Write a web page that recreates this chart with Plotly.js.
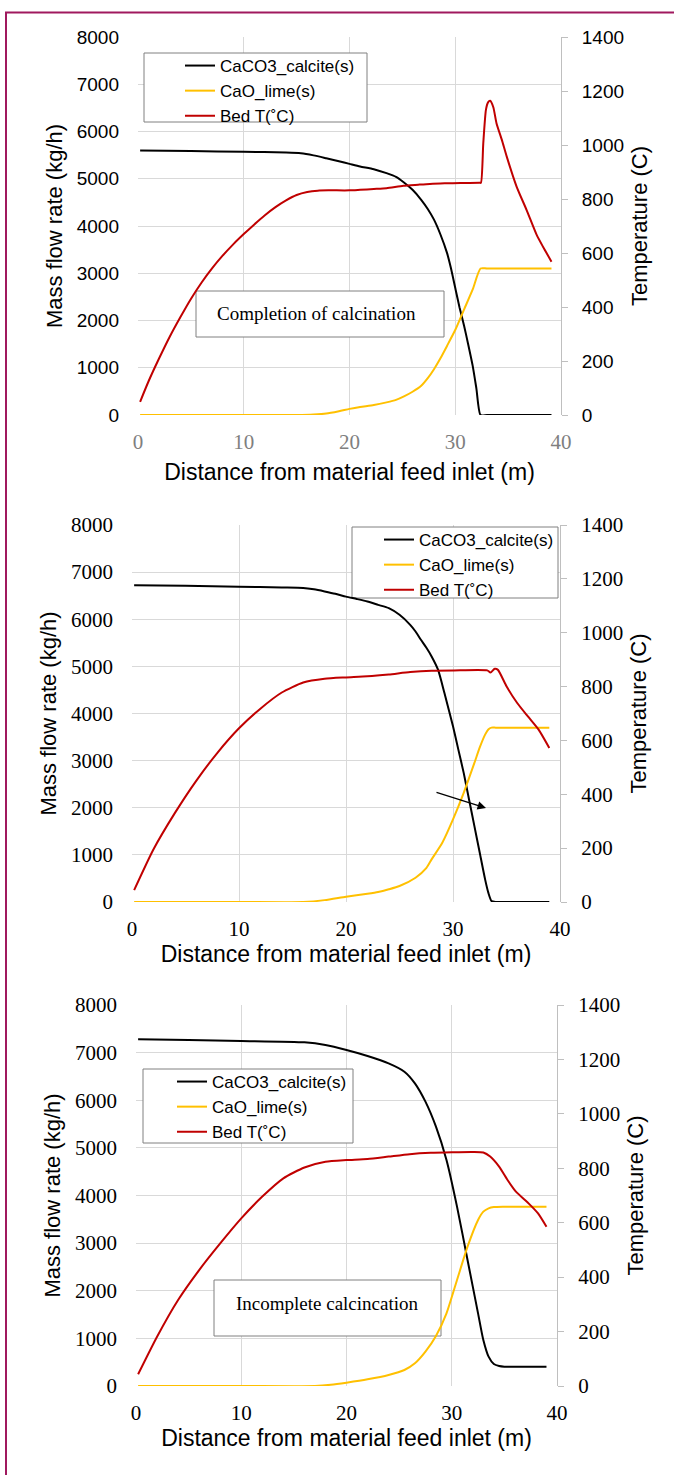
<!DOCTYPE html>
<html>
<head>
<meta charset="utf-8">
<script src="https://cdn.plot.ly/plotly-3.0.1.min.js"></script>
<style>html,body{margin:0;padding:0;background:#fff;}#chart{width:674px;height:1475px;}</style>
</head>
<body>
<div id="chart"></div>
<script>
// ---------------- DATA ----------------
const seriesNames = ['CaCO3_calcite(s)', 'CaO_lime(s)', 'Bed T(˚C)'];
const xTitle = 'Distance from material feed inlet (m)';
const yLeftTitle = 'Mass flow rate (kg/h)';
const yRightTitle = 'Temperature (C)';
const noteTexts = ['Completion of calcination', '', 'Incomplete calcincation'];

// Panel 1 (top) - completion of calcination
const p1_caco3_x = [0.2, 5, 10, 14, 15.4, 16.6, 17.8, 19, 20, 21, 22.3, 23.5, 24.4, 25.15, 25.96, 26.78, 27.4, 27.99, 28.6, 29.22, 29.6, 30.03, 30.4, 30.84, 31.2, 31.65, 32.0, 32.39, 33, 36, 39.1];
const p1_caco3   = [5600, 5585, 5570, 5555, 5540, 5495, 5434, 5370, 5315, 5260, 5202, 5118, 5040, 4921, 4766, 4555, 4360, 4134, 3820, 3431, 3100, 2657, 2280, 1884, 1520, 1040, 560, 0, 0, 0, 0];
const p1_cao_x   = [0.2, 10, 15, 16.6, 17.8, 19, 20, 21, 22.3, 23.5, 24.4, 25.15, 25.96, 26.78, 27.4, 27.99, 28.6, 29.22, 30.03, 30.84, 31.65, 32.39, 33, 36, 39.1];
const p1_cao     = [0, 0, 0, 10, 30, 80, 130, 170, 211, 267, 320, 394, 492, 619, 780, 970, 1200, 1462, 1814, 2236, 2657, 3100, 3100, 3100, 3100];
const p1_bedT_x  = [0.2, 1, 2, 3, 4, 5, 6, 7, 8, 9, 10, 11, 12, 13, 14, 15, 16, 17, 18, 20, 21, 22.3, 23.5, 25.1, 26.5, 27.6, 29, 30.5, 32.3, 32.43, 32.65, 32.9, 33.1, 33.3, 33.6, 33.9, 34.4, 34.87, 35.8, 36.75, 37.7, 38.3, 39.1];
const p1_bedT    = [49, 125, 210, 290, 362, 430, 490, 543, 590, 632, 670, 706, 740, 770, 795, 815, 826, 831, 832, 832, 834, 837, 840, 849, 853, 856, 858, 859, 860, 860, 1006, 1130, 1158, 1164, 1140, 1081, 1020, 957, 846, 759, 667, 623, 568];

// Panel 2 (middle)
const p2_caco3_x = [0.2, 5, 10, 14, 16, 17, 18, 19, 20, 21, 22, 23, 24, 25, 26, 26.5, 27, 27.5, 28, 28.6, 29.2, 30, 30.5, 31, 31.5, 32, 32.5, 33, 33.3, 33.6, 34, 36, 39];
const p2_caco3   = [6720, 6710, 6690, 6675, 6665, 6635, 6590, 6540, 6480, 6430, 6376, 6305, 6235, 6094, 5882, 5740, 5564, 5400, 5211, 4929, 4434, 3728, 3234, 2740, 2175, 1610, 1045, 480, 198, 20, 0, 0, 0];
const p2_cao_x   = [0.2, 10, 16, 18, 20, 22, 23, 24, 25, 26.5, 27.5, 28, 29, 30, 31, 32, 32.5, 33, 33.3, 33.6, 34, 36, 39];
const p2_cao     = [0, 0, 0, 40, 113, 175, 212, 270, 339, 515, 720, 904, 1257, 1751, 2316, 2951, 3280, 3552, 3660, 3700, 3700, 3700, 3700];
const p2_bedT_x  = [0.2, 2, 4, 6, 8, 10, 12, 14, 16, 18, 20, 22, 24, 26, 28, 30, 33.2, 33.5, 33.9, 34.2, 35, 36, 37, 38, 39];
const p2_bedT    = [44, 195, 330, 450, 555, 645, 718, 778, 815, 829, 834, 838, 845, 854, 859, 860, 860, 852, 866, 862, 801, 739, 689, 640, 572];

// Panel 3 (bottom) - incomplete calcination
const p3_caco3_x = [0.2, 5, 10, 16, 18, 20, 22, 24, 25.5, 26.5, 27.5, 28.5, 29.5, 30.5, 31.5, 32.5, 33, 33.5, 34, 34.5, 35, 39];
const p3_caco3   = [7279, 7265, 7245, 7216, 7160, 7055, 6929, 6775, 6600, 6355, 5970, 5445, 4745, 3766, 2646, 1526, 966, 616, 462, 420, 406, 406];
const p3_cao_x   = [0.2, 10, 17, 18.5, 20, 22, 24, 25.5, 26.5, 27.5, 28.5, 29.5, 30.5, 31.5, 32.5, 33, 33.5, 34, 35, 39];
const p3_cao     = [0, 0, 0, 25, 70, 140, 231, 336, 476, 721, 1050, 1526, 2226, 2926, 3486, 3661, 3731, 3759, 3766, 3766];
const p3_bedT_x  = [0.2, 2, 4, 6, 8, 10, 12, 14, 16, 18, 20, 22, 24, 26, 28, 30, 32, 33, 33.65, 34.5, 35.3, 36.1, 37.3, 38.2, 39];
const p3_bedT    = [43, 181, 316, 426, 524, 616, 696, 763, 803, 824, 830, 834, 843, 852, 857, 859, 860, 858, 843, 806, 757, 714, 671, 634, 585];

// ---------------- LAYOUT ----------------
const W = 674, H = 1475;
const SANS = '"Liberation Sans", Arial, sans-serif';
const SERIF = '"Liberation Serif", "Times New Roman", serif';
const colors = ['#000000', '#FFC000', '#C00000'];
const px = v => v / W;
const py = v => 1 - v / H;

const panels = [
  {xl: 138, xr: 561, yt: 37, yb: 415,
   leftFont: {family: SANS, size: 19, color: '#000'}, rightFont: {family: SANS, size: 19, color: '#000'}, xFont: {family: SERIF, size: 21, color: '#7f7f7f'},
   data: [[p1_caco3_x, p1_caco3], [p1_cao_x, p1_cao], [p1_bedT_x, p1_bedT]],
   legendBox: [144, 53, 367, 122], legendText: [220, 48], xStandoff: 10,
   noteBox: [196, 291, 444, 337], noteText: [316, 313]},
  {xl: 132, xr: 560, yt: 525, yb: 902,
   leftFont: {family: SERIF, size: 21, color: '#000'}, rightFont: {family: SERIF, size: 21, color: '#000'}, xFont: {family: SERIF, size: 21, color: '#000'},
   data: [[p2_caco3_x, p2_caco3], [p2_cao_x, p2_cao], [p2_bedT_x, p2_bedT]],
   legendBox: [352, 527, 558, 598], legendText: [419, 522], xStandoff: 4},
  {xl: 136, xr: 557, yt: 1005, yb: 1386,
   leftFont: {family: SERIF, size: 21, color: '#000'}, rightFont: {family: SERIF, size: 21, color: '#000'}, xFont: {family: SERIF, size: 21, color: '#000'},
   data: [[p3_caco3_x, p3_caco3], [p3_cao_x, p3_cao], [p3_bedT_x, p3_bedT]],
   legendBox: [143, 1069, 353, 1143], legendText: [212, 1064], xStandoff: 1,
   noteBox: [214, 1280, 441, 1336], noteText: [327, 1303]}
];

const traces = [];
const layout = {
  width: W, height: H,
  margin: {l: 0, r: 0, t: 0, b: 0},
  paper_bgcolor: '#ffffff', plot_bgcolor: '#ffffff',
  showlegend: true,
  shapes: [], annotations: []
};

panels.forEach((p, i) => {
  const xn = i === 0 ? 'x' : 'x' + (i + 1);
  const yLn = i === 0 ? 'y' : 'y' + (2 * i + 1);
  const yRn = 'y' + (2 * i + 2);
  const xKey = i === 0 ? 'xaxis' : 'xaxis' + (i + 1);
  const yLKey = i === 0 ? 'yaxis' : 'yaxis' + (2 * i + 1);
  const yRKey = 'yaxis' + (2 * i + 2);
  const legKey = i === 0 ? 'legend' : 'legend' + (i + 1);
  const dX = v => (v - p.xl) / (p.xr - p.xl) * 40;
  const dY = v => (p.yb - v) / (p.yb - p.yt) * 8000;

  layout[xKey] = {
    domain: [px(p.xl), px(p.xr)], anchor: yLn, range: [0, 40], dtick: 10, tick0: 0,
    showgrid: true, gridcolor: '#D9D9D9', gridwidth: 1, zeroline: false, showline: false,
    ticks: '', tickfont: p.xFont, ticklabelstandoff: 12,
    title: {text: xTitle, font: {family: SANS, size: 23, color: '#000'}, standoff: p.xStandoff}
  };
  layout[yLKey] = {
    domain: [py(p.yb), py(p.yt)], anchor: xn, range: [0, 8000], dtick: 1000, tick0: 0, tickformat: 'd',
    showgrid: true, gridcolor: '#D9D9D9', gridwidth: 1, zeroline: false, showline: false,
    ticks: '', tickfont: p.leftFont, ticklabelstandoff: 18,
    title: {text: yLeftTitle, font: {family: SANS, size: 22, color: '#000'}, standoff: 8}
  };
  layout[yRKey] = {
    domain: [py(p.yb), py(p.yt)], anchor: xn, overlaying: yLn, side: 'right',
    range: [0, 1400], dtick: 200, tick0: 0, tickformat: 'd',
    showgrid: false, zeroline: false, showline: true, linecolor: '#BFBFBF', linewidth: 1,
    ticks: 'outside', ticklen: 6, tickcolor: '#BFBFBF', tickwidth: 1,
    tickfont: p.rightFont, ticklabelstandoff: 10,
    title: {text: yRightTitle, font: {family: SANS, size: 22, color: '#000'}, standoff: 8}
  };

  p.data.forEach((d, k) => {
    traces.push({
      type: 'scatter', mode: 'lines', name: seriesNames[k],
      x: d[0], y: d[1], xaxis: xn, yaxis: k === 2 ? yRn : yLn,
      line: {color: colors[k], width: 2, shape: 'spline', smoothing: 0.6},
      legend: legKey, showlegend: true, hoverinfo: 'skip'
    });
  });

  // legend frame
  const lb = p.legendBox;
  layout.shapes.push({type: 'rect', xref: xn, yref: yLn, layer: 'between',
    x0: dX(lb[0]), x1: dX(lb[2]), y0: dY(lb[3]), y1: dY(lb[1]),
    fillcolor: '#ffffff', line: {color: '#808080', width: 1}});
  layout[legKey] = {
    x: px(p.legendText[0] - 40), y: py(p.legendText[1]), xanchor: 'left', yanchor: 'top',
    bgcolor: 'rgba(0,0,0,0)', borderwidth: 0, tracegroupgap: 0,
    font: {family: SANS, size: 17, color: '#000'}
  };

  if (p.noteBox) {
    const nb = p.noteBox;
    layout.shapes.push({type: 'rect', xref: xn, yref: yLn, layer: 'between',
      x0: dX(nb[0]), x1: dX(nb[2]), y0: dY(nb[3]), y1: dY(nb[1]),
      fillcolor: '#ffffff', line: {color: '#808080', width: 1}});
    layout.annotations.push({xref: 'paper', yref: 'paper', x: px(p.noteText[0]), y: py(p.noteText[1]),
      xanchor: 'center', yanchor: 'middle', showarrow: false, text: noteTexts[i],
      font: {family: SERIF, size: 19, color: '#000'}});
  }
  if (i === 1) {
    layout.annotations.push({xref: xn, yref: yLn, x: dX(486), y: dY(808), ax: -51, ay: -16,
      showarrow: true, arrowhead: 2, arrowsize: 1.3, arrowwidth: 1.3, arrowcolor: '#000', text: ''});
  }
});

// outer frame
layout.shapes.push({type: 'rect', xref: 'paper', yref: 'paper', layer: 'above',
  x0: px(6), x1: 1.05, y0: -0.05, y1: py(12.5), line: {color: '#A0195E', width: 2}});

Plotly.newPlot('chart', traces, layout, {displayModeBar: false, staticPlot: true});
</script>
</body>
</html>
